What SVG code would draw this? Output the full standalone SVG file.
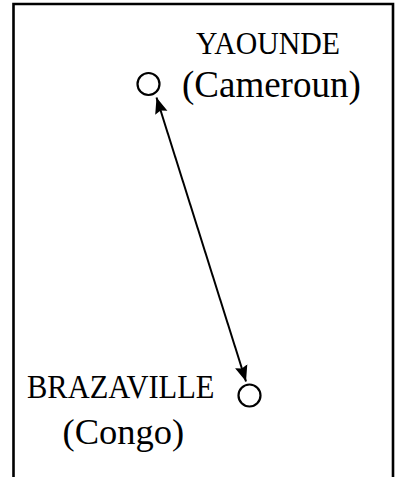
<svg xmlns="http://www.w3.org/2000/svg" width="396" height="477" viewBox="0 0 396 477">
<defs>
<style>
.frame{fill:none;stroke:#000;stroke-width:2.6}
.city{fill:#fff;stroke:#000;stroke-width:2.2}
.t{font-family:"Liberation Serif","Times New Roman",serif;fill:#000}
.edge{stroke:#000;stroke-width:2;fill:none}
</style>
<marker id="ah" viewBox="0 0 10 10" refX="10" refY="5" markerWidth="8" markerHeight="8" markerUnits="strokeWidth" orient="auto-start-reverse">
<path d="M0,1 L10,5 L0,9 L1.5,5 z" fill="#000"/>
</marker>
</defs>
<path class="frame" d="M13.5,477 V4 H393 V477"/>
<g id="connectors">
<line class="edge" x1="156.5" y1="97.5" x2="246" y2="381.5" marker-start="url(#ah)" marker-end="url(#ah)"/>
</g>
<g id="yaounde">
<circle class="city" cx="148.5" cy="84" r="11"/>
<text class="t" x="196" y="54" font-size="29.8" transform="translate(0,54) scale(1,1.08) translate(0,-54)">YAOUNDE</text>
<text class="t" x="182" y="97" font-size="37">(Cameroun)</text>
</g>
<g id="brazzaville">
<circle class="city" cx="249.5" cy="395.5" r="11"/>
<text class="t" x="27" y="398" font-size="30.5" transform="translate(0,398) scale(1,1.08) translate(0,-398)">BRAZAVILLE</text>
<text class="t" x="62.5" y="444" font-size="36.5">(Congo)</text>
</g>
</svg>
